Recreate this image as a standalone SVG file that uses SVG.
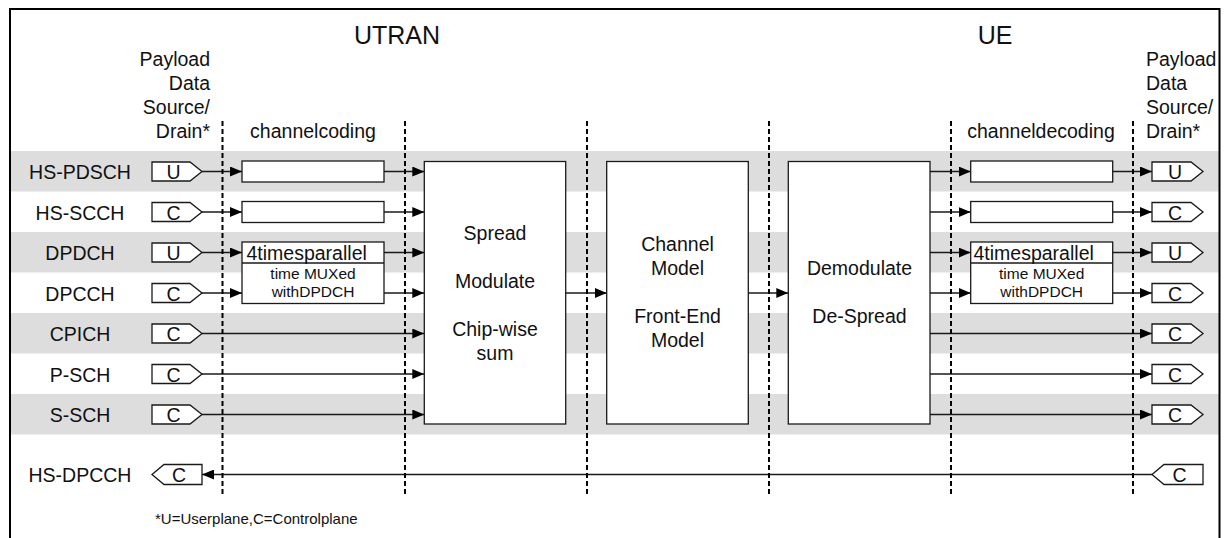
<svg xmlns="http://www.w3.org/2000/svg" width="1226" height="538" viewBox="0 0 1226 538">
  <defs>
    <style>
      text { font-family: "Liberation Sans", Arial, sans-serif; fill: #111; }
      .lbl { font-size: 19.5px; }
      .title { font-size: 25px; }
      .small { font-size: 15.5px; }
      .note { font-size: 15px; }
      .mid { text-anchor: middle; }
      .end { text-anchor: end; }
      .band { fill: #dddddd; }
      .box { fill: #fff; stroke: #1a1a1a; stroke-width: 1.3; }
      .tag { fill: #fff; stroke: #1a1a1a; stroke-width: 1.3; }
      .wire { fill: none; stroke: #1a1a1a; stroke-width: 1.3; marker-end: url(#arrow); }
      .dash { fill: none; stroke: #000; stroke-width: 2; stroke-dasharray: 5 3; }
    </style>
    <marker id="arrow" markerUnits="userSpaceOnUse" markerWidth="12" markerHeight="10" refX="12" refY="5" orient="auto">
      <path d="M0,0 L12,5 L0,10 Z" fill="#000"/>
    </marker>
  </defs>

  <!-- background stripes for alternating channel rows -->
  <g id="bands">
    <rect class="band" x="10" y="151" width="1209" height="40.5"/>
    <rect class="band" x="10" y="232" width="1209" height="40.5"/>
    <rect class="band" x="10" y="313" width="1209" height="40.5"/>
    <rect class="band" x="10" y="394" width="1209" height="40.5"/>
  </g>

  <!-- frame -->
  <path d="M10,545 V9 H1219.5 V545" fill="none" stroke="#000" stroke-width="2"/>

  <!-- headings -->
  <g id="headings">
    <text class="title mid" x="397" y="44">UTRAN</text>
    <text class="title mid" x="995" y="44">UE</text>
    <text class="lbl end" x="210" y="66">Payload</text>
    <text class="lbl end" x="210" y="90">Data</text>
    <text class="lbl end" x="210" y="114">Source/</text>
    <text class="lbl end" x="210" y="138">Drain*</text>
    <text class="lbl" x="1146" y="66">Payload</text>
    <text class="lbl" x="1146" y="90">Data</text>
    <text class="lbl" x="1146" y="114">Source/</text>
    <text class="lbl" x="1146" y="138">Drain*</text>
    <text class="lbl mid" x="313" y="138">channelcoding</text>
    <text class="lbl mid" x="1041" y="138">channeldecoding</text>
  </g>

  <!-- channel names -->
  <g id="channel-names">
    <text class="lbl mid" x="80" y="179">HS-PDSCH</text>
    <text class="lbl mid" x="80" y="219.5">HS-SCCH</text>
    <text class="lbl mid" x="80" y="260">DPDCH</text>
    <text class="lbl mid" x="80" y="300.5">DPCCH</text>
    <text class="lbl mid" x="80" y="341">CPICH</text>
    <text class="lbl mid" x="80" y="381.5">P-SCH</text>
    <text class="lbl mid" x="80" y="422">S-SCH</text>
    <text class="lbl mid" x="80" y="482">HS-DPCCH</text>
  </g>

  <!-- connectors -->
  <g id="connectors">
    <!-- UTRAN side -->
    <path class="wire" d="M202,171.5 H242"/>
    <path class="wire" d="M384,171.5 H424.3"/>
    <path class="wire" d="M202,212 H242"/>
    <path class="wire" d="M384,212 H424.3"/>
    <path class="wire" d="M202,252.5 H242"/>
    <path class="wire" d="M384,252.5 H424.3"/>
    <path class="wire" d="M202,293 H242"/>
    <path class="wire" d="M384,293 H424.3"/>
    <path class="wire" d="M202,333.5 H424.3"/>
    <path class="wire" d="M202,374 H424.3"/>
    <path class="wire" d="M202,414.5 H424.3"/>
    <!-- air interface -->
    <path class="wire" d="M565.7,293 H606.7"/>
    <path class="wire" d="M748.3,293 H788.3"/>
    <!-- UE side -->
    <path class="wire" d="M930,171.5 H970.7"/>
    <path class="wire" d="M1112.7,171.5 H1152"/>
    <path class="wire" d="M930,212 H970.7"/>
    <path class="wire" d="M1112.7,212 H1152"/>
    <path class="wire" d="M930,252.5 H970.7"/>
    <path class="wire" d="M1112.7,252.5 H1152"/>
    <path class="wire" d="M930,293 H970.7"/>
    <path class="wire" d="M1112.7,293 H1152"/>
    <path class="wire" d="M930,333.5 H1152"/>
    <path class="wire" d="M930,374 H1152"/>
    <path class="wire" d="M930,414.5 H1152"/>
    <!-- uplink feedback -->
    <path class="wire" d="M1152,474.5 H202"/>
  </g>

  <!-- source tags (UTRAN side) -->
  <g id="src-hs-pdsch"><path class="tag" d="M152,162 H190 L202,171.5 L190,181 H152 Z"/><text class="lbl mid" x="173.5" y="179">U</text></g>
  <g id="src-hs-scch"><path class="tag" d="M152,202.5 H190 L202,212 L190,221.5 H152 Z"/><text class="lbl mid" x="173.5" y="219.5">C</text></g>
  <g id="src-dpdch"><path class="tag" d="M152,243 H190 L202,252.5 L190,262 H152 Z"/><text class="lbl mid" x="173.5" y="260">U</text></g>
  <g id="src-dpcch"><path class="tag" d="M152,283.5 H190 L202,293 L190,302.5 H152 Z"/><text class="lbl mid" x="173.5" y="300.5">C</text></g>
  <g id="src-cpich"><path class="tag" d="M152,324 H190 L202,333.5 L190,343 H152 Z"/><text class="lbl mid" x="173.5" y="341">C</text></g>
  <g id="src-p-sch"><path class="tag" d="M152,364.5 H190 L202,374 L190,383.5 H152 Z"/><text class="lbl mid" x="173.5" y="381.5">C</text></g>
  <g id="src-s-sch"><path class="tag" d="M152,405 H190 L202,414.5 L190,424 H152 Z"/><text class="lbl mid" x="173.5" y="422">C</text></g>
  <g id="drain-hs-dpcch"><path class="tag" d="M202,464.5 H164 L152,474.5 L164,484.5 H202 Z"/><text class="lbl mid" x="179" y="482">C</text></g>

  <!-- channel coding -->
  <g id="enc-hs-pdsch"><rect class="box" x="242" y="161" width="142" height="21"/></g>
  <g id="enc-hs-scch"><rect class="box" x="242" y="201.5" width="142" height="21"/></g>
  <g id="enc-dpch">
    <rect class="box" x="242" y="242" width="142" height="61.5"/>
    <line x1="242" y1="263" x2="384" y2="263" stroke="#1a1a1a" stroke-width="1.3"/>
    <text class="lbl" x="246.5" y="260">4timesparallel</text>
    <text class="small mid" x="313" y="279">time MUXed</text>
    <text class="small mid" x="313" y="296.5">withDPDCH</text>
  </g>

  <!-- processing blocks -->
  <g id="spread">
    <rect class="box" x="424.3" y="161.5" width="141.4" height="262.5"/>
    <text class="lbl mid" x="495" y="240">Spread</text>
    <text class="lbl mid" x="495" y="288">Modulate</text>
    <text class="lbl mid" x="495" y="336">Chip-wise</text>
    <text class="lbl mid" x="495" y="360">sum</text>
  </g>
  <g id="channel">
    <rect class="box" x="606.7" y="161.5" width="141.6" height="262.5"/>
    <text class="lbl mid" x="677.5" y="251">Channel</text>
    <text class="lbl mid" x="677.5" y="275">Model</text>
    <text class="lbl mid" x="677.5" y="323">Front-End</text>
    <text class="lbl mid" x="677.5" y="347">Model</text>
  </g>
  <g id="despread">
    <rect class="box" x="788.3" y="161.5" width="141.7" height="262.5"/>
    <text class="lbl mid" x="859.5" y="275">Demodulate</text>
    <text class="lbl mid" x="859.5" y="323">De-Spread</text>
  </g>

  <!-- channel decoding -->
  <g id="dec-hs-pdsch"><rect class="box" x="970.7" y="161" width="142" height="21"/></g>
  <g id="dec-hs-scch"><rect class="box" x="970.7" y="201.5" width="142" height="21"/></g>
  <g id="dec-dpch">
    <rect class="box" x="970.7" y="242" width="142" height="61.5"/>
    <line x1="970.7" y1="263" x2="1112.7" y2="263" stroke="#1a1a1a" stroke-width="1.3"/>
    <text class="lbl" x="973.5" y="260">4timesparallel</text>
    <text class="small mid" x="1041.7" y="279">time MUXed</text>
    <text class="small mid" x="1041.7" y="296.5">withDPDCH</text>
  </g>

  <!-- drain tags (UE side) -->
  <g id="dst-hs-pdsch"><path class="tag" d="M1152,162 H1191 L1203,171.5 L1191,181 H1152 Z"/><text class="lbl mid" x="1175" y="179">U</text></g>
  <g id="dst-hs-scch"><path class="tag" d="M1152,202.5 H1191 L1203,212 L1191,221.5 H1152 Z"/><text class="lbl mid" x="1175" y="219.5">C</text></g>
  <g id="dst-dpdch"><path class="tag" d="M1152,243 H1191 L1203,252.5 L1191,262 H1152 Z"/><text class="lbl mid" x="1175" y="260">U</text></g>
  <g id="dst-dpcch"><path class="tag" d="M1152,283.5 H1191 L1203,293 L1191,302.5 H1152 Z"/><text class="lbl mid" x="1175" y="300.5">C</text></g>
  <g id="dst-cpich"><path class="tag" d="M1152,324 H1191 L1203,333.5 L1191,343 H1152 Z"/><text class="lbl mid" x="1175" y="341">C</text></g>
  <g id="dst-p-sch"><path class="tag" d="M1152,364.5 H1191 L1203,374 L1191,383.5 H1152 Z"/><text class="lbl mid" x="1175" y="381.5">C</text></g>
  <g id="dst-s-sch"><path class="tag" d="M1152,405 H1191 L1203,414.5 L1191,424 H1152 Z"/><text class="lbl mid" x="1175" y="422">C</text></g>
  <g id="src-hs-dpcch"><path class="tag" d="M1203,464.5 H1164 L1152,474.5 L1164,484.5 H1203 Z"/><text class="lbl mid" x="1179.5" y="482">C</text></g>

  <!-- section boundaries -->
  <g id="boundaries">
    <line class="dash" x1="222.5" y1="121" x2="222.5" y2="494"/>
    <line class="dash" x1="405" y1="121" x2="405" y2="494"/>
    <line class="dash" x1="587" y1="121" x2="587" y2="494"/>
    <line class="dash" x1="769" y1="121" x2="769" y2="494"/>
    <line class="dash" x1="951" y1="121" x2="951" y2="494"/>
    <line class="dash" x1="1133" y1="121" x2="1133" y2="494"/>
  </g>

  <text class="note" x="155" y="524">*U=Userplane,C=Controlplane</text>
</svg>
